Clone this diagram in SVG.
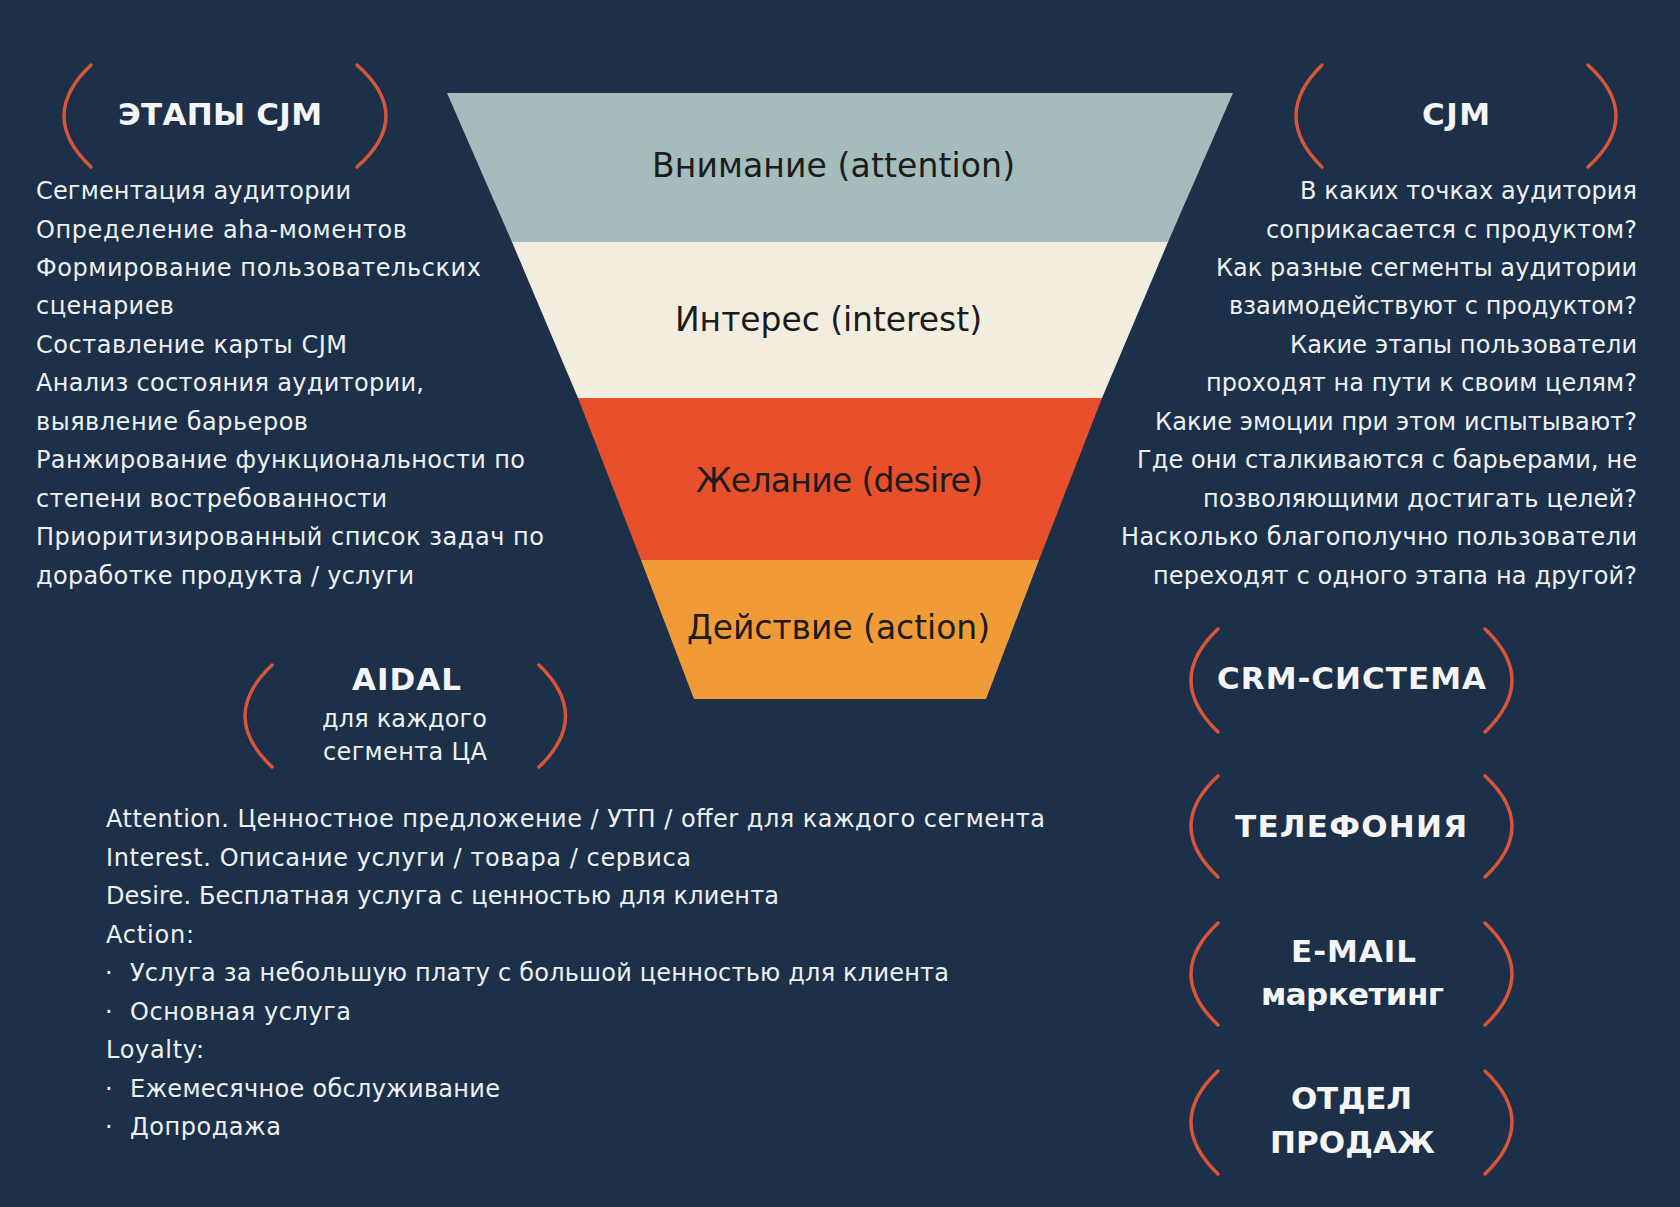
<svg xmlns="http://www.w3.org/2000/svg" width="1680" height="1207" viewBox="0 0 1680 1207">
<style>
.bg{fill:#1d3049}
.par{fill:none;stroke:#d9553a;stroke-width:3.5;stroke-linecap:round}
.h{font-family:"DejaVu Sans","Liberation Sans",sans-serif;font-weight:bold;font-size:31px;fill:#f5f5f5}
.t{font-family:"DejaVu Sans","Liberation Sans",sans-serif;font-size:24px;fill:#eef0f2}
.f{font-family:"DejaVu Sans","Liberation Sans",sans-serif;font-size:33px;fill:#1c1c1c}
</style>
<rect class="bg" x="0" y="0" width="1680" height="1207"/>

<g id="funnel">
  <g id="band-attention">
    <polygon points="447,93 1233,93 1168,242 512,242" fill="#a4bcbc"/>
    <text class="f" x="652" y="177" textLength="363" lengthAdjust="spacing">Внимание (attention)</text>
  </g>
  <g id="band-interest">
    <polygon points="512,242 1168,242 1102,398 578,398" fill="#f3ede0"/>
    <text class="f" x="675" y="331" textLength="307" lengthAdjust="spacing">Интерес (interest)</text>
  </g>
  <g id="band-desire">
    <polygon points="578,398 1102,398 1039,560 641,560" fill="#e8502c"/>
    <text class="f" x="696" y="492" textLength="287" lengthAdjust="spacing">Желание (desire)</text>
  </g>
  <g id="band-action">
    <polygon points="641,560 1039,560 986,699 694,699" fill="#f19b38"/>
    <text class="f" x="687" y="639" textLength="303" lengthAdjust="spacing">Действие (action)</text>
  </g>
</g>

<g id="stages-cjm">
  <path class="par" d="M91 65 Q37 116 91 167"/>
  <path class="par" d="M357 65 Q415 116 357 167"/>
  <text class="h" x="118" y="125" textLength="204" lengthAdjust="spacing">ЭТАПЫ CJM</text>
  <g class="t">
    <text x="36" y="199" textLength="315" lengthAdjust="spacing">Сегментация аудитории</text>
    <text x="36" y="237.5" textLength="371" lengthAdjust="spacing">Определение aha-моментов</text>
    <text x="36" y="275.9" textLength="445" lengthAdjust="spacing">Формирование пользовательских</text>
    <text x="36" y="314.4" textLength="138" lengthAdjust="spacing">сценариев</text>
    <text x="36" y="352.8" textLength="311" lengthAdjust="spacing">Составление карты CJM</text>
    <text x="36" y="391.3" textLength="388" lengthAdjust="spacing">Анализ состояния аудитории,</text>
    <text x="36" y="429.7" textLength="272" lengthAdjust="spacing">выявление барьеров</text>
    <text x="36" y="468.2" textLength="489" lengthAdjust="spacing">Ранжирование функциональности по</text>
    <text x="36" y="506.6" textLength="351" lengthAdjust="spacing">степени востребованности</text>
    <text x="36" y="545.1" textLength="508" lengthAdjust="spacing">Приоритизированный список задач по</text>
    <text x="36" y="583.5" textLength="378" lengthAdjust="spacing">доработке продукта / услуги</text>
  </g>
</g>

<g id="cjm">
  <path class="par" d="M1322 65 Q1270 116 1322 167"/>
  <path class="par" d="M1588 65 Q1644 116 1588 167"/>
  <text class="h" x="1422" y="125" textLength="68" lengthAdjust="spacing">CJM</text>
  <g class="t">
    <text x="1300" y="199" textLength="337" lengthAdjust="spacing">В каких точках аудитория</text>
    <text x="1266" y="237.5" textLength="371" lengthAdjust="spacing">соприкасается с продуктом?</text>
    <text x="1216" y="275.9" textLength="421" lengthAdjust="spacing">Как разные сегменты аудитории</text>
    <text x="1229" y="314.4" textLength="408" lengthAdjust="spacing">взаимодействуют с продуктом?</text>
    <text x="1290" y="352.8" textLength="347" lengthAdjust="spacing">Какие этапы пользователи</text>
    <text x="1206" y="391.3" textLength="431" lengthAdjust="spacing">проходят на пути к своим целям?</text>
    <text x="1155" y="429.7" textLength="482" lengthAdjust="spacing">Какие эмоции при этом испытывают?</text>
    <text x="1137" y="468.2" textLength="500" lengthAdjust="spacing">Где они сталкиваются с барьерами, не</text>
    <text x="1203" y="506.6" textLength="434" lengthAdjust="spacing">позволяющими достигать целей?</text>
    <text x="1121" y="545.1" textLength="516" lengthAdjust="spacing">Насколько благополучно пользователи</text>
    <text x="1153" y="583.5" textLength="484" lengthAdjust="spacing">переходят с одного этапа на другой?</text>
  </g>
</g>

<g id="aidal">
  <path class="par" d="M272 665 Q218 716 272 767"/>
  <path class="par" d="M539 665 Q592 716 539 767"/>
  <text class="h" x="352" y="690" textLength="109" lengthAdjust="spacing">AIDAL</text>
  <text class="t" x="322" y="727" textLength="165" lengthAdjust="spacing">для каждого</text>
  <text class="t" x="323" y="760" textLength="164" lengthAdjust="spacing">сегмента ЦА</text>
</g>

<g id="aidal-list" class="t">
  <text x="106" y="827.3" textLength="939" lengthAdjust="spacing">Attention. Ценностное предложение / УТП / offer для каждого сегмента</text>
  <text x="106" y="865.8" textLength="585" lengthAdjust="spacing">Interest. Описание услуги / товара / сервиса</text>
  <text x="106" y="904.2" textLength="673" lengthAdjust="spacing">Desire. Бесплатная услуга с ценностью для клиента</text>
  <text x="106" y="942.7" textLength="88" lengthAdjust="spacing">Action:</text>
  <text x="105" y="981.1">·</text>
  <text x="130" y="981.1" textLength="819" lengthAdjust="spacing">Услуга за небольшую плату с большой ценностью для клиента</text>
  <text x="105" y="1019.6">·</text>
  <text x="130" y="1019.6" textLength="221" lengthAdjust="spacing">Основная услуга</text>
  <text x="106" y="1058" textLength="98" lengthAdjust="spacing">Loyalty:</text>
  <text x="105" y="1096.5">·</text>
  <text x="130" y="1096.5" textLength="370" lengthAdjust="spacing">Ежемесячное обслуживание</text>
  <text x="105" y="1134.9">·</text>
  <text x="130" y="1134.9" textLength="151" lengthAdjust="spacing">Допродажа</text>
</g>

<g id="crm">
  <path class="par" d="M1218 629 Q1164 680 1218 732"/>
  <path class="par" d="M1485 629 Q1539 680 1485 732"/>
  <text class="h" x="1217" y="689" textLength="269" lengthAdjust="spacing">CRM-СИСТЕМА</text>
</g>
<g id="telephony">
  <path class="par" d="M1218 776 Q1164 826 1218 877"/>
  <path class="par" d="M1485 776 Q1539 826 1485 877"/>
  <text class="h" x="1235" y="837" textLength="232" lengthAdjust="spacing">ТЕЛЕФОНИЯ</text>
</g>
<g id="email">
  <path class="par" d="M1218 923 Q1164 974 1218 1025"/>
  <path class="par" d="M1485 923 Q1539 974 1485 1025"/>
  <text class="h" x="1291" y="962" textLength="125" lengthAdjust="spacing">E-MAIL</text>
  <text class="h" x="1261" y="1005" textLength="183" lengthAdjust="spacing">маркетинг</text>
</g>
<g id="sales">
  <path class="par" d="M1218 1071 Q1164 1122 1218 1174"/>
  <path class="par" d="M1485 1071 Q1539 1122 1485 1174"/>
  <text class="h" x="1291" y="1109" textLength="121" lengthAdjust="spacing">ОТДЕЛ</text>
  <text class="h" x="1270" y="1153" textLength="165" lengthAdjust="spacing">ПРОДАЖ</text>
</g>

<g id="connectors"></g>
</svg>
